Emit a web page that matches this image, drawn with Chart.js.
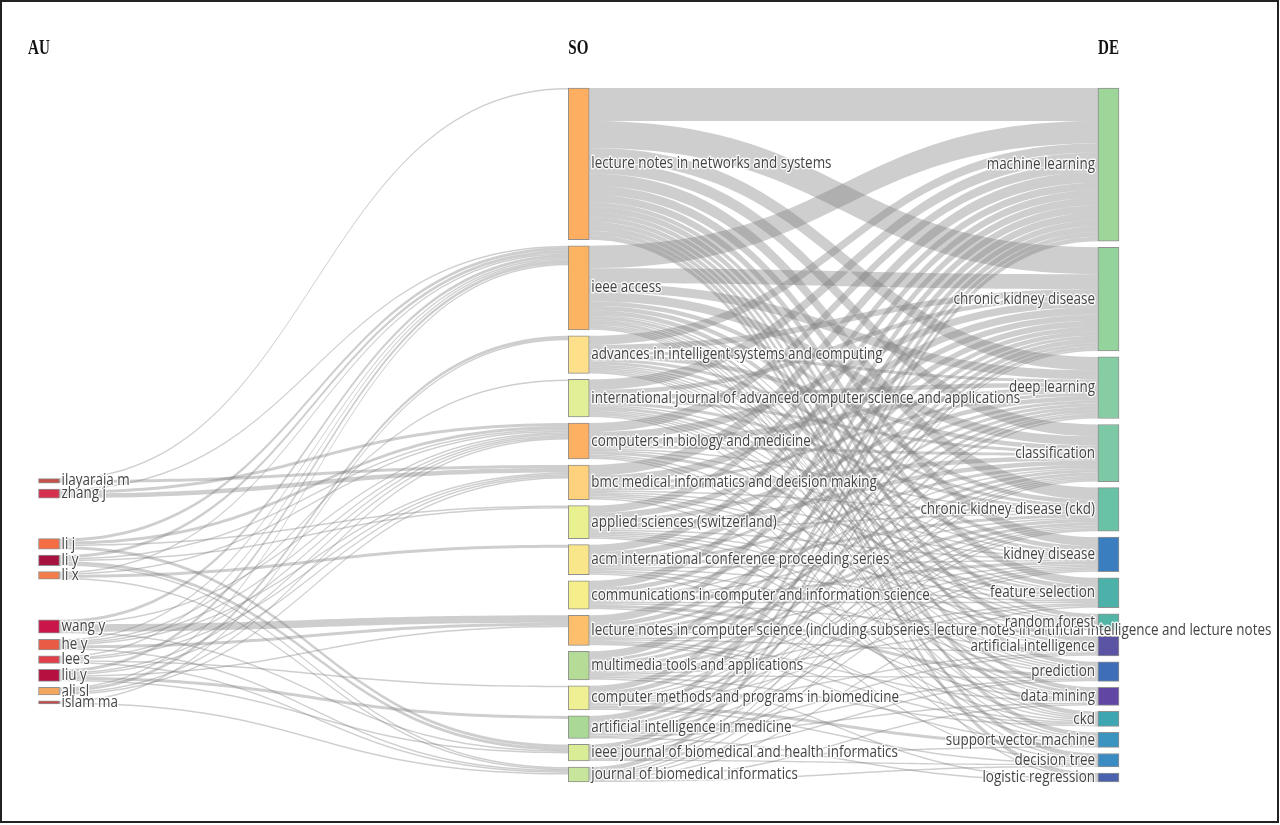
<!DOCTYPE html>
<html>
<head>
<meta charset="utf-8">
<script src="https://cdn.jsdelivr.net/npm/chart.js@4.4.1/dist/chart.umd.min.js"></script>
<style>
html, body { margin: 0; padding: 0; background: #fff; }
#wrap { position: relative; width: 1280px; height: 825px; }
</style>
</head>
<body>
<div id="wrap"><canvas id="sankey"></canvas></div>
<script>
// three fields
var fields = ["AU", "SO", "DE"];

var authors = ["ilayaraja m", "zhang j", "li j", "li y", "li x", "wang y", "he y", "lee s", "liu y", "ali sl", "islam ma"];

var sources = [
    "lecture notes in networks and systems",
    "ieee access",
    "advances in intelligent systems and computing",
    "international journal of advanced computer science and applications",
    "computers in biology and medicine",
    "bmc medical informatics and decision making",
    "applied sciences (switzerland)",
    "acm international conference proceeding series",
    "communications in computer and information science",
    "lecture notes in computer science (including subseries lecture notes in artificial intelligence and lecture notes",
    "multimedia tools and applications",
    "computer methods and programs in biomedicine",
    "artificial intelligence in medicine",
    "ieee journal of biomedical and health informatics",
    "journal of biomedical informatics"
];

var keywords = [
    "machine learning", "chronic kidney disease", "deep learning", "classification",
    "chronic kidney disease (ckd)", "kidney disease", "feature selection", "random forest",
    "artificial intelligence", "prediction", "data mining", "ckd",
    "support vector machine", "decision tree", "logistic regression"
];

// AU -> SO, one row per author, one column per source
var auSo = [
    [1,0,0,0,0,2,0,0,0,0,0,0,0,0,0],
    [0,1,0,0,2,3,0,0,0,0,0,0,0,0,0],
    [0,2,0,0,2,0,1,0,0,0,0,0,0,2,0],
    [0,2,0,0,1,0,1,0,0,0,0,0,0,2,1],
    [0,1,0,0,1,0,0,2,0,0,0,0,0,0,1],
    [0,2,0,0,1,0,0,0,0,5,0,0,0,1,0],
    [0,1,0,1,1,1,0,0,0,2,0,0,0,0,1],
    [0,1,0,0,1,1,0,0,0,0,0,1,0,0,1],
    [0,2,0,0,1,1,0,0,0,1,0,0,2,1,0],
    [0,1,2,0,1,1,0,0,0,0,0,0,0,0,0],
    [0,0,1,0,0,0,0,0,0,0,0,0,0,0,1]
];

// SO -> DE, one row per source, one column per keyword
var soDe = [
    [22,18,9,8,8,6,5,3,4,3,3,3,3,3,3],
    [15,10,6,6,3,3,3,1,2,1,2,1,1,1,1],
    [6,4,2,3,2,2,1,1,1,1,1,1,0,0,0],
    [7,3,3,2,2,1,2,1,1,1,1,0,1,0,0],
    [6,5,4,2,1,1,2,0,0,1,0,1,0,1,0],
    [7,5,2,3,1,1,1,1,0,1,0,0,1,0,0],
    [5,4,3,3,1,1,1,1,1,0,1,1,0,0,0],
    [5,4,2,2,2,1,1,0,1,0,1,0,0,1,0],
    [5,3,2,1,1,2,1,1,0,2,0,1,0,0,0],
    [5,3,2,2,2,1,0,1,1,0,1,1,1,0,0],
    [5,2,2,2,2,1,1,1,0,1,0,1,0,0,1],
    [4,3,1,1,1,1,1,0,1,0,0,0,2,1,0],
    [4,2,2,1,1,1,0,0,1,1,1,0,0,0,1],
    [3,2,0,1,1,1,0,0,0,1,0,0,1,1,0],
    [3,1,1,1,1,0,1,0,0,0,1,0,0,1,0]
];

var authorColors = ["#c4504a", "#d6304f", "#f46d43", "#a8123e", "#f57d4a", "#c8164a", "#ea5b45", "#df3e4a", "#b5103f", "#f4a55e", "#c44a4a"];
var sourceColors = ["#fdae61", "#fdb462", "#fee08b", "#e2ef96", "#fdb062", "#fed27c", "#e9f08f", "#fae68a", "#f6ee8a", "#fdbf6b", "#b5dc97", "#eef093", "#a9d897", "#d8ed95", "#c7e69c"];
var keywordColors = ["#9dd698", "#94d39c", "#86cda3", "#7dc9a6", "#69c2a5", "#3a7ebf", "#4bb1a9", "#52b5a6", "#5b53a4", "#3e6eb8", "#6146a4", "#3ea6b1", "#3b93c0", "#3a8bc2", "#4a62ae"];

// ---- layout (value units on the y axis) ----
var PAD = 4;
var AU_START = 260, AU_BREAKS = [2, 5], AU_BREAK_GAP = 27;
var LINK_COLOR = "rgba(125,125,125,0.38)";
var TXT_SX = 0.83;

function rowSum(m, i) { return m[i].reduce(function (a, b) { return a + b; }, 0); }
function colSum(m, j) { return m.reduce(function (a, r) { return a + r[j]; }, 0); }

var auVal = authors.map(function (a, i) { return rowSum(auSo, i); });
var soVal = sources.map(function (s, i) { return Math.max(colSum(auSo, i), rowSum(soDe, i)); });
var deVal = keywords.map(function (k, j) { return colSum(soDe, j); });

function stack(vals, start, breaks, gap) {
    var tops = [], y = start;
    vals.forEach(function (v, i) {
        if (breaks && breaks.indexOf(i) >= 0) y += gap;
        tops.push(y);
        y += v + PAD;
    });
    return tops;
}
var auTop = stack(auVal, AU_START, AU_BREAKS, AU_BREAK_GAP - PAD);
var soTop = stack(soVal, 0);
var deTop = stack(deVal, 0);
var yMax = Math.max(soTop[soTop.length - 1] + soVal[soVal.length - 1], deTop[deTop.length - 1] + deVal[deVal.length - 1]);

function bars(col, tops, vals) {
    return vals.map(function (v, i) { return { x: col, y: [tops[i], tops[i] + v] }; });
}

function drawLinks(ctx, ys, srcEls, tgtEls, matrix, sTop, tTop, sVal, tVal) {
    var links = [];
    matrix.forEach(function (row, i) {
        row.forEach(function (v, j) { if (v > 0) links.push({ s: i, t: j, v: v }); });
    });
    var outOff = sTop.slice(), inOff = tTop.slice();
    links.slice().sort(function (a, b) {
        return (a.s - b.s) || ((tTop[a.t] + tVal[a.t] / 2) - (tTop[b.t] + tVal[b.t] / 2));
    }).forEach(function (l) { l.y0 = outOff[l.s]; outOff[l.s] += l.v; });
    links.slice().sort(function (a, b) {
        return (a.t - b.t) || ((sTop[a.s] + sVal[a.s] / 2) - (sTop[b.s] + sVal[b.s] / 2));
    }).forEach(function (l) { l.y1 = inOff[l.t]; inOff[l.t] += l.v; });

    ctx.fillStyle = LINK_COLOR;
    links.forEach(function (l) {
        var se = srcEls[l.s], te = tgtEls[l.t];
        var x0 = se.x + se.width / 2, x1 = te.x - te.width / 2, xm = (x0 + x1) / 2;
        var a0 = ys.getPixelForValue(l.y0), b0 = ys.getPixelForValue(l.y0 + l.v);
        var a1 = ys.getPixelForValue(l.y1), b1 = ys.getPixelForValue(l.y1 + l.v);
        ctx.beginPath();
        ctx.moveTo(x0, a0);
        ctx.bezierCurveTo(xm, a0, xm, a1, x1, a1);
        ctx.lineTo(x1, b1);
        ctx.bezierCurveTo(xm, b1, xm, b0, x0, b0);
        ctx.closePath();
        ctx.fill();
    });
}

var linkPlugin = {
    id: "links",
    beforeDatasetsDraw: function (chart) {
        var ctx = chart.ctx, ys = chart.scales.y;
        var m = [0, 1, 2].map(function (i) { return chart.getDatasetMeta(i).data; });
        ctx.save();
        drawLinks(ctx, ys, m[0], m[1], auSo, auTop, soTop, auVal, soVal);
        drawLinks(ctx, ys, m[1], m[2], soDe, soTop, deTop, soVal, deVal);
        ctx.restore();
    }
};

function label(ctx, text, x, y, align) {
    ctx.save();
    ctx.translate(x, y);
    ctx.scale(TXT_SX, 1);
    ctx.font = '16.2px "Open Sans"';
    ctx.textAlign = align;
    ctx.textBaseline = "middle";
    ctx.lineJoin = "round";
    ctx.lineWidth = 3;
    ctx.strokeStyle = "rgba(255,255,255,0.85)";
    ctx.strokeText(text, 0, 0);
    ctx.fillStyle = "#444";
    ctx.fillText(text, 0, 0);
    ctx.restore();
}

var textPlugin = {
    id: "texts",
    afterDatasetsDraw: function (chart) {
        var ctx = chart.ctx, ys = chart.scales.y, xs = chart.scales.x;
        var names = [authors, sources, keywords];
        var tops = [auTop, soTop, deTop];
        var vals = [auVal, soVal, deVal];
        [0, 1, 2].forEach(function (c) {
            var els = chart.getDatasetMeta(c).data;
            names[c].forEach(function (n, i) {
                var el = els[i];
                var yc = ys.getPixelForValue(tops[c][i] + vals[c][i] / 2);
                if (c < 2) label(ctx, n, el.x + el.width / 2 + 2, yc, "left");
                else label(ctx, n, el.x - el.width / 2 - 3, yc, "right");
            });
            // field title
            ctx.save();
            ctx.translate(xs.getPixelForValue(c) - (c === 0 ? 21 : 10.5), 49);
            ctx.scale(0.72, 1);
            ctx.font = 'bold 21px "Liberation Serif"';
            ctx.textBaseline = "middle";
            ctx.fillStyle = "#111";
            ctx.fillText(fields[c], 0, 0);
            ctx.restore();
        });
        ctx.save();
        ctx.strokeStyle = "#222";
        ctx.lineWidth = 2;
        ctx.strokeRect(1, 1, 1277, 821);
        ctx.restore();
    }
};

var nodeStyle = { borderWidth: 1, borderColor: "rgba(70,70,70,0.6)", borderSkipped: false, clip: false };

var chart = new Chart(document.getElementById("sankey").getContext("2d"), {
    type: "bar",
    data: {
        datasets: [
            Object.assign({ label: fields[0], data: bars(0, auTop, auVal), backgroundColor: authorColors }, nodeStyle),
            Object.assign({ label: fields[1], data: bars(1, soTop, soVal), backgroundColor: sourceColors }, nodeStyle),
            Object.assign({ label: fields[2], data: bars(2, deTop, deVal), backgroundColor: keywordColors }, nodeStyle)
        ]
    },
    options: {
        responsive: true,
        maintainAspectRatio: false,
        animation: false,
        layout: { padding: { left: 49, right: 171.5, top: 88, bottom: 43 } },
        datasets: { bar: { grouped: false, barThickness: 21 } },
        scales: {
            x: { type: "linear", min: 0, max: 2, offset: false, display: false },
            y: { type: "linear", min: 0, max: yMax, reverse: true, display: false }
        },
        plugins: { legend: { display: false }, tooltip: { enabled: false } }
    },
    plugins: [linkPlugin, textPlugin]
});
</script>
</body>
</html>
